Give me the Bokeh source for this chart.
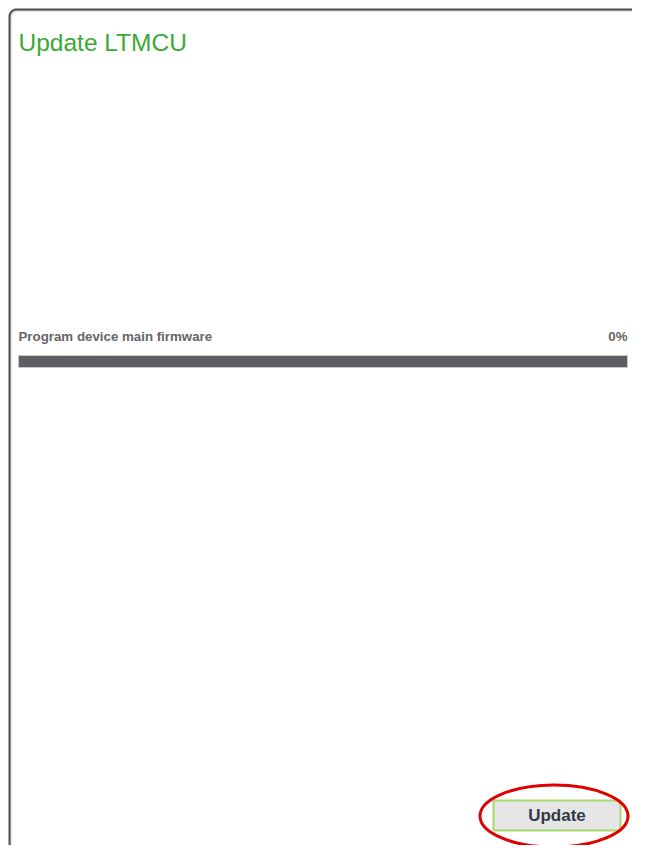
import numpy as np
from bokeh.plotting import figure
from bokeh.models import Range1d
from bokeh.core.properties import value
from bokeh.embed import file_html
from bokeh.resources import INLINE

# ---- content ----
title_text = ["Update LTMCU"]
task_labels = ["Program device main firmware"]
task_progress = [0]          # percent done
button_labels = ["Update"]

W, H = 632, 845
p = figure(width=W, height=H, output_backend="svg", toolbar_location=None,
           x_range=Range1d(0, W), y_range=Range1d(H, 0),
           min_border=0, background_fill_color="white", border_fill_color="white")
p.axis.visible = False
p.grid.visible = False
p.outline_line_color = None

# panel border with rounded top-left corner
r = 7
ang = np.linspace(np.pi, 1.5 * np.pi, 12)
cx, cy = 9 + r, 9 + r
bx = [9, 9] + list(cx + r * np.cos(ang)) + [W]
by = [H, cy] + list(cy + r * np.sin(ang)) + [9]
p.line([x + 1 for x in bx], [y + 1 for y in by], line_color="#d0d0d0", line_width=2)
p.line(bx, by, line_color="#505050", line_width=2)

# title
p.text(x=[18], y=[42], text=title_text, text_font=value("Liberation Sans"),
       text_font_size="24.5px", text_color="#3aa935", text_baseline="middle")

# task label + percentage
p.text(x=[18], y=[336], text=task_labels, text_font=value("Liberation Sans"),
       text_font_size="13.3px", text_font_style="bold", text_color="#666666",
       text_baseline="middle")
p.text(x=[627], y=[336], text=[f"{v}%" for v in task_progress], text_font=value("Liberation Sans"),
       text_font_size="13.3px", text_font_style="bold", text_color="#666666",
       text_baseline="middle", text_align="right")

# progress track and fill
x0, x1 = 18, 627
p.quad(left=[x0], right=[x1], top=[355], bottom=[367], fill_color="#5e5f64",
       line_color="#c8c8c8", line_width=1)
p.quad(left=[x0], right=[x0 + (x1 - x0) * v / 100 for v in task_progress], top=[355], bottom=[367],
       fill_color="#3aa935", line_color=None)

# button
p.quad(left=[493], right=[620], top=[800], bottom=[830], fill_color="#e6e6e6",
       line_color="#a6d96a", line_width=2)
p.text(x=[556.5], y=[815], text=button_labels, text_font=value("Liberation Sans"),
       text_font_size="17px", text_font_style="bold", text_color="#333a45",
       text_align="center", text_baseline="middle")

# red highlight ellipse
p.ellipse(x=[553.5], y=[815.5], width=148, height=62, fill_color=None,
          line_color="#e00000", line_width=3)

open("out.html", "w").write(file_html(p, INLINE))
